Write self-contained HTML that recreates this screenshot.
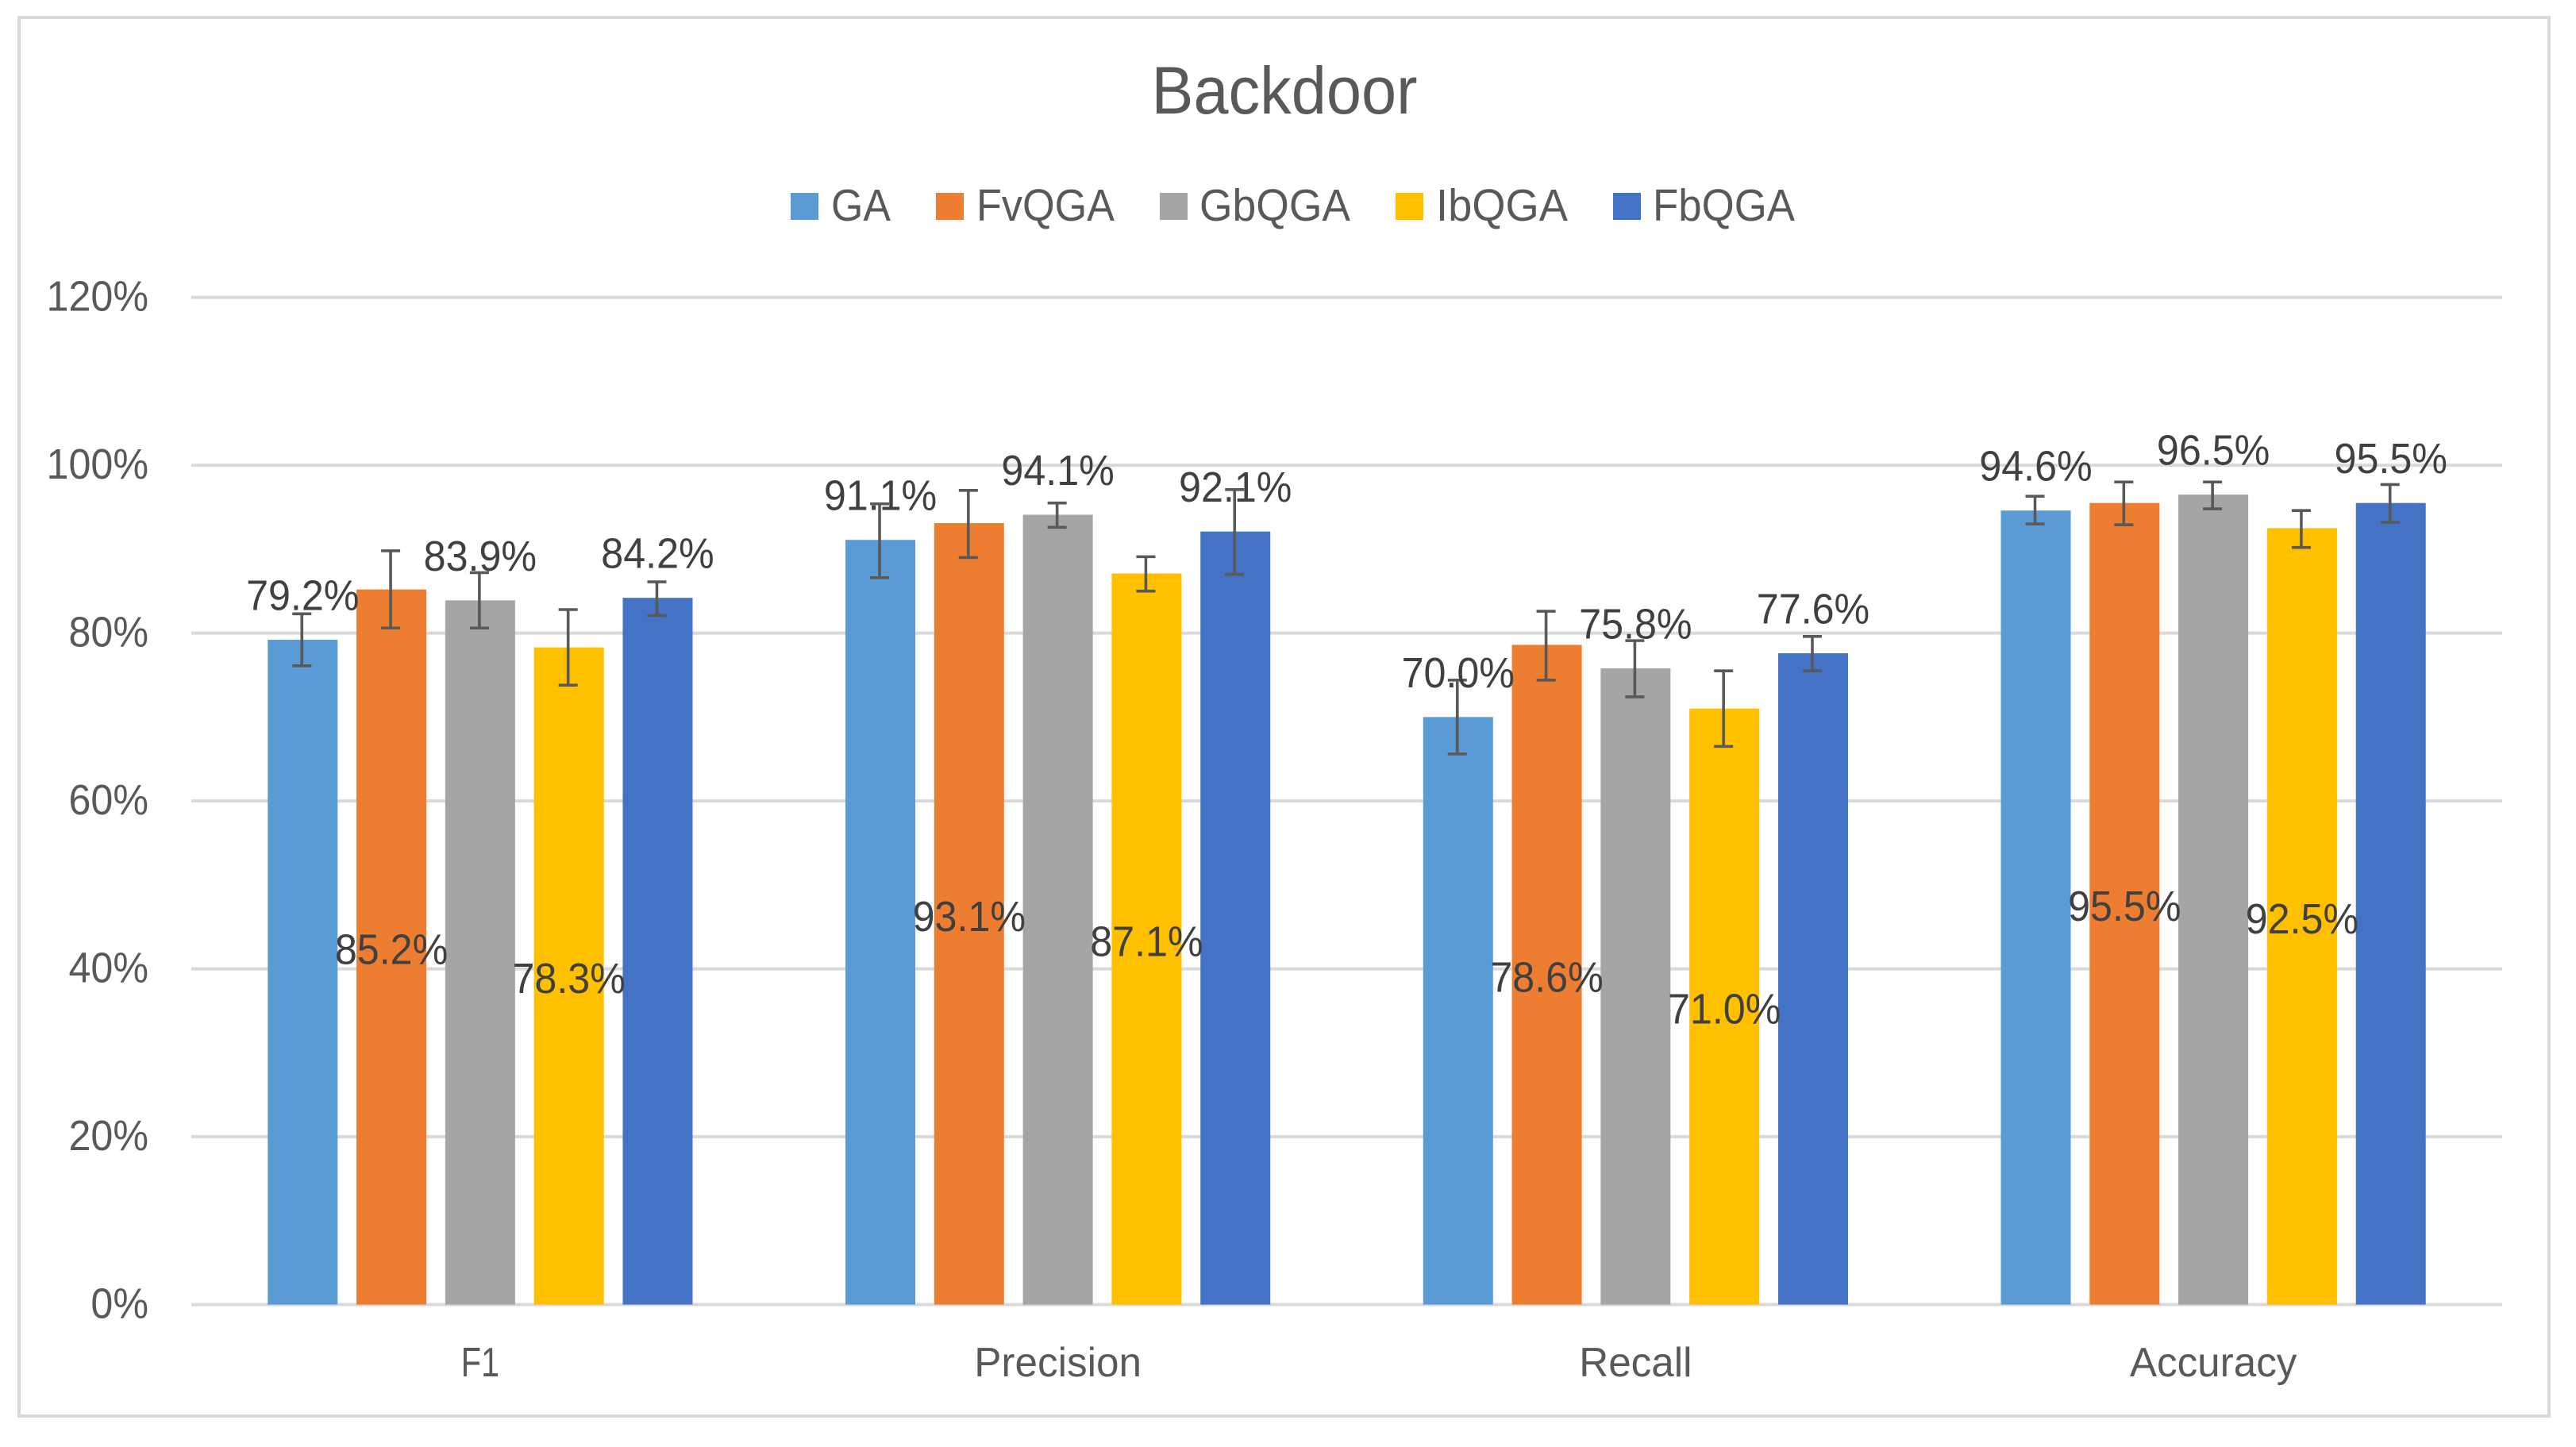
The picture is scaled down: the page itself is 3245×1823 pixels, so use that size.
<!DOCTYPE html>
<html lang="en">
<head>
<meta charset="utf-8">
<title>Backdoor</title>
<style>
html,body{margin:0;padding:0;background:#fff;}
svg{display:block;}
text{font-family:"Liberation Sans",sans-serif;}
</style>
</head>
<body>
<svg id="chart" xmlns="http://www.w3.org/2000/svg" width="3245" height="1823" viewBox="0 0 3245 1823">
  <rect x="0" y="0" width="3245" height="1823" fill="#ffffff"/>
  <rect x="24" y="22" width="3187" height="1762" fill="#ffffff" stroke="#d9d9d9" stroke-width="4"/>
  <text x="1618" y="143" font-size="84" fill="#595959" text-anchor="middle" textLength="335" lengthAdjust="spacingAndGlyphs">Backdoor</text>
  <g>
    <g>
      <rect x="996" y="243" width="35" height="34" fill="#5b9bd5"/>
      <text x="1047" y="278" font-size="57" fill="#595959" textLength="75" lengthAdjust="spacingAndGlyphs">GA</text>
    </g>
    <g>
      <rect x="1179" y="243" width="35" height="34" fill="#ed7d31"/>
      <text x="1230" y="278" font-size="57" fill="#595959" textLength="174" lengthAdjust="spacingAndGlyphs">FvQGA</text>
    </g>
    <g>
      <rect x="1461" y="243" width="35" height="34" fill="#a5a5a5"/>
      <text x="1511" y="278" font-size="57" fill="#595959" textLength="190" lengthAdjust="spacingAndGlyphs">GbQGA</text>
    </g>
    <g>
      <rect x="1758" y="243" width="35" height="34" fill="#ffc000"/>
      <text x="1809" y="278" font-size="57" fill="#595959" textLength="166" lengthAdjust="spacingAndGlyphs">IbQGA</text>
    </g>
    <g>
      <rect x="2032" y="243" width="35" height="34" fill="#4472c4"/>
      <text x="2082" y="278" font-size="57" fill="#595959" textLength="179" lengthAdjust="spacingAndGlyphs">FbQGA</text>
    </g>
  </g>
  <g id="grid"></g>
  <g id="ticks"></g>
  <g id="cats"></g>
  <g id="bars"></g>
  <g id="errors"></g>
  <g id="labels"></g>
</svg>
<script>
const categories = ["F1", "Precision", "Recall", "Accuracy"];
const seriesNames = ["GA", "FvQGA", "GbQGA", "IbQGA", "FbQGA"];
const seriesColors = ["#5b9bd5", "#ed7d31", "#a5a5a5", "#ffc000", "#4472c4"];
const valuesGA = [79.2, 91.1, 70.0, 94.6];
const valuesFvQGA = [85.2, 93.1, 78.6, 95.5];
const valuesGbQGA = [83.9, 94.1, 75.8, 96.5];
const valuesIbQGA = [78.3, 87.1, 71.0, 92.5];
const valuesFbQGA = [84.2, 92.1, 77.6, 95.5];
const errHighGA = [82.3, 95.4, 74.4, 96.3];
const errLowGA = [76.1, 86.6, 65.6, 93.0];
const errHighFvQGA = [89.8, 97.0, 82.6, 98.0];
const errLowFvQGA = [80.6, 89.0, 74.4, 92.9];
const errHighGbQGA = [87.2, 95.5, 79.1, 98.0];
const errLowGbQGA = [80.6, 92.6, 72.4, 94.8];
const errHighIbQGA = [82.8, 89.1, 75.5, 94.6];
const errLowIbQGA = [73.8, 85.0, 66.5, 90.2];
const errHighFbQGA = [86.1, 97.1, 79.6, 97.7];
const errLowFbQGA = [82.1, 87.0, 75.5, 93.2];
const yTicks = [0, 20, 40, 60, 80, 100, 120];
const labelPlacement = ["outside", "center", "outside", "center", "outside"];

const seriesValues = [valuesGA, valuesFvQGA, valuesGbQGA, valuesIbQGA, valuesFbQGA];
const seriesHigh = [errHighGA, errHighFvQGA, errHighGbQGA, errHighIbQGA, errHighFbQGA];
const seriesLow = [errLowGA, errLowFvQGA, errLowGbQGA, errLowIbQGA, errLowFbQGA];

const NS = "http://www.w3.org/2000/svg";
const plotLeft = 241, plotRight = 3152, plotBottom = 1643.6, pxPerPct = 10.575;
const barWidth = 88, barStep = 111.8;
const bandWidth = (plotRight - plotLeft) / categories.length;

function yScale(v) { return plotBottom - v * pxPerPct; }
function groupCenter(i) { return plotLeft + bandWidth * (i + 0.5); }
function barCenter(i, s) { return groupCenter(i) + (s - (seriesNames.length - 1) / 2) * barStep; }
function make(tag, parent, attrs) {
  const e = document.createElementNS(NS, tag);
  for (const k in attrs) e.setAttribute(k, attrs[k]);
  parent.appendChild(e);
  return e;
}
function squeeze(t, ratio) {
  t.setAttribute("textLength", (t.getComputedTextLength() * ratio).toFixed(1));
  t.setAttribute("lengthAdjust", "spacingAndGlyphs");
}

const gridG = document.getElementById("grid");
const ticksG = document.getElementById("ticks");
const catsG = document.getElementById("cats");
const barsG = document.getElementById("bars");
const errG = document.getElementById("errors");
const labelsG = document.getElementById("labels");

yTicks.forEach(function (tick) {
  const line = make("line", gridG, { x1: plotLeft, x2: plotRight, y1: yScale(tick), y2: yScale(tick), stroke: "#d9d9d9", "stroke-width": 4 });
  
  
  const t = make("text", ticksG, { x: 187, y: yScale(tick) + 17, "font-size": 54, fill: "#595959", "text-anchor": "end" });
  
  
  t.textContent = tick + "%";
  squeeze(t, 0.93);
});

categories.forEach(function (cat, i) {
  const t = make("text", catsG, { x: groupCenter(i), y: 1734, "font-size": 52, fill: "#595959", "text-anchor": "middle" });
  
  
  t.textContent = cat;
  squeeze(t, cat.length < 3 ? 0.8 : 0.985);
});

seriesNames.forEach(function (name, s) {
  categories.forEach(function (cat, i) {
    const v = seriesValues[s][i];
    const cx = barCenter(i, s);
    const top = yScale(v);

    const bar = make("rect", barsG, { x: cx - barWidth / 2, y: top, width: barWidth, height: plotBottom - top, fill: seriesColors[s] });
    
    

    const hi = yScale(seriesHigh[s][i]);
    const lo = yScale(seriesLow[s][i]);
    const ex = cx - 1;
    const stem = make("line", errG, { x1: ex, x2: ex, y1: hi, y2: lo, stroke: "#595959", "stroke-width": 3.6 });
    
    
    const capTop = make("line", errG, { x1: ex - 12, x2: ex + 12, y1: hi, y2: hi, stroke: "#595959", "stroke-width": 3.6 });
    
    
    const capBottom = make("line", errG, { x1: ex - 12, x2: ex + 12, y1: lo, y2: lo, stroke: "#595959", "stroke-width": 3.6 });
    
    

    const baseline = labelPlacement[s] === "outside" ? top - 37.5 : (top + plotBottom) / 2 + 21.5;
    const t = make("text", labelsG, { x: cx, y: baseline, "font-size": 54, fill: "#404040", "text-anchor": "middle" });
    
    
    t.textContent = v.toFixed(1) + "%";
    squeeze(t, 0.93);
  });
});
</script>
</body>
</html>
